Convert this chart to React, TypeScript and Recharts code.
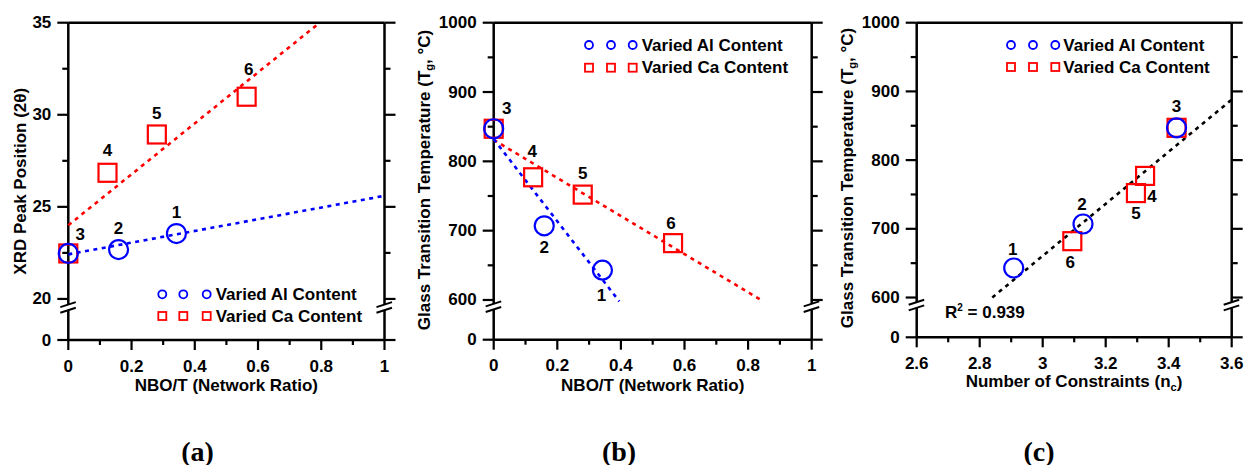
import React from "react";
import { ScatterChart, Scatter, XAxis, YAxis } from "recharts";

const W = 1247;
const H = 465;
const FONT = '"Liberation Sans", Arial, Helvetica, sans-serif';
const SERIF = '"Liberation Serif", "Times New Roman", serif';
const BLUE = "#0000ff";
const RED = "#ff0000";

// sample numbers: 1-3 vary Al, 3-6 vary Ca (3 is the shared base glass)
const AL_IDS = [1, 2, 3];
const CA_IDS = [3, 4, 5, 6];

// (a) XRD peak position vs NBO/T
const NBO_AL = [0.342, 0.159, 0];
const NBO_CA = [0, 0.124, 0.28, 0.564];
const XRD_AL = [23.55, 22.68, 22.47];
const XRD_CA = [22.47, 26.85, 28.93, 30.98];
const XRD_FIT_AL_X = [0, 1];
const XRD_FIT_AL_Y = [22.42, 25.6];
const XRD_FIT_CA_X = [0, 0.795];
const XRD_FIT_CA_Y = [24.0, 35];

// (b) Tg vs NBO/T
const TG_AL = [643, 707, 847];
const TG_CA = [847, 777, 752, 682];
const TG_FIT_AL_X = [0, 0.395];
const TG_FIT_AL_Y = [832, 598];
const TG_FIT_CA_X = [0, 0.848];
const TG_FIT_CA_Y = [831, 598];

// (c) Tg vs number of constraints
const NC_AL = [2.908, 3.128, 3.425];
const NC_CA = [3.425, 3.325, 3.296, 3.094];
const NC_FIT_X = [2.84, 3.6];
const NC_FIT_Y = [600, 888];
const R2 = "0.939";

// ticks
const NBO_TICKS = [0, 0.2, 0.4, 0.6, 0.8, 1];
const NBO_MINOR = [0.1, 0.3, 0.5, 0.7, 0.9];
const NC_TICKS = [2.6, 2.8, 3, 3.2, 3.4, 3.6];
const NC_MINOR = [2.7, 2.9, 3.1, 3.3, 3.5];
const XRD_TICKS = [20, 25, 30, 35];
const XRD_MINOR = [22.5, 27.5, 32.5];
const TG_TICKS = [600, 700, 800, 900, 1000];
const TG_MINOR = [650, 750, 850, 950];

// axis widths
const LW = 60;
const RW = 12;
const TH = 12;
const BH = 30;
const AXIS = { stroke: "#000", strokeWidth: 2.5 };

const zip = (xs: number[], ys: number[], ids?: number[]) =>
  xs.map((x, i) => ({ x, y: ys[i], id: ids ? ids[i] : i }));

const txt = { fontFamily: FONT, fontWeight: 700, fontSize: 17, fill: "#000" } as const;

function xTick(side: "bottom" | "top", major: number[]) {
  return (p: any) => {
    const v = p.payload.value;
    const isMajor = major.includes(v);
    const dir = side === "bottom" ? 1 : -1;
    const len = isMajor ? 10 : 5;
    return (
      <g>
        <line x1={p.x} x2={p.x} y1={p.y} y2={p.y + dir * len} stroke="#000" strokeWidth={2.2} />
        {side === "bottom" && isMajor && (
          <text x={p.x} y={p.y + 26} textAnchor="middle" dominantBaseline="central" {...txt}>
            {String(v)}
          </text>
        )}
      </g>
    );
  };
}

function yTick(side: "left" | "right", major: number[], floor: number, brk: number) {
  return (p: any) => {
    const v = p.payload.value;
    const { x, y } = p;
    if (v === brk) {
      return (
        <g>
          <polygon points={`${x - 8},${y - 0.3} ${x + 7.5},${y - 5.3} ${x + 7.5},${y + 0.3} ${x - 8},${y + 5.3}`} fill="#fff" />
          <line x1={x - 8} y1={y - 0.3} x2={x + 7.5} y2={y - 5.3} stroke="#000" strokeWidth={2} />
          <line x1={x - 8} y1={y + 5.3} x2={x + 7.5} y2={y + 0.3} stroke="#000" strokeWidth={2} />
        </g>
      );
    }
    const isMajor = v === floor || major.includes(v);
    const dir = side === "left" ? -1 : 1;
    const len = isMajor ? 11 : 6;
    return (
      <g>
        <line x1={x} x2={x + dir * len} y1={y} y2={y} stroke="#000" strokeWidth={2.2} />
        {side === "left" && isMajor && (
          <text x={x - 17} y={y} textAnchor="end" dominantBaseline="central" {...txt}>
            {v === floor ? "0" : String(v)}
          </text>
        )}
      </g>
    );
  };
}

type Offsets = Record<string, [number, number]>;

function markerShape(kind: "al" | "ca", offs: Offsets) {
  return (p: any) => {
    const off = offs[kind + p.payload.id];
    const color = kind === "al" ? BLUE : RED;
    return (
      <g>
        {kind === "al" ? (
          <circle cx={p.cx} cy={p.cy} r={9.5} fill="none" stroke={color} strokeWidth={2.2} />
        ) : (
          <rect x={p.cx - 9} y={p.cy - 9} width={18} height={18} fill="none" stroke={color} strokeWidth={2.2} />
        )}
        {off && (
          <text x={p.cx + off[0]} y={p.cy + off[1]} textAnchor="middle" dominantBaseline="central" {...txt}>
            {p.payload.id}
          </text>
        )}
      </g>
    );
  };
}

type Fit = { pts: { x: number; y: number }[]; color: string };

type PanelCfg = {
  box: { l: number; r: number; t: number; b: number };
  xDomain: [number, number];
  xTicks: number[];
  xMinor: number[];
  yTop: number;
  yFloor: number;
  yBreak: number;
  yTicks: number[];
  yMinor: number[];
  al: { x: number; y: number; id: number }[];
  ca: { x: number; y: number; id: number }[];
  fits: Fit[];
  labels: Offsets;
};

const noShape = () => <g />;

function Panel({ cfg }: { cfg: PanelCfg }) {
  const m = {
    left: cfg.box.l - LW,
    right: W - cfg.box.r - RW,
    top: cfg.box.t - TH,
    bottom: H - cfg.box.b - BH,
  };
  const xt = [...cfg.xTicks, ...cfg.xMinor].sort((a, b) => a - b);
  const yt = [cfg.yFloor, cfg.yBreak, ...cfg.yTicks, ...cfg.yMinor].sort((a, b) => a - b);
  const yDomain: [number, number] = [cfg.yFloor, cfg.yTop];
  return (
    <div style={{ position: "absolute", left: 0, top: 0 }}>
      <ScatterChart width={W} height={H} margin={m}>
        <XAxis type="number" dataKey="x" domain={cfg.xDomain} ticks={xt} interval={0}
          tickSize={0} tickMargin={0} tickLine={false} axisLine={AXIS} height={BH}
          tick={xTick("bottom", cfg.xTicks)} />
        <XAxis xAxisId="top" orientation="top" type="number" domain={cfg.xDomain} allowDataOverflow
          ticks={xt} interval={0} tickSize={0} tickMargin={0} tickLine={false} axisLine={AXIS}
          height={TH} tick={xTick("top", cfg.xTicks)} />
        <YAxis type="number" dataKey="y" domain={yDomain} ticks={yt} interval={0}
          tickSize={0} tickMargin={0} tickLine={false} axisLine={AXIS} width={LW}
          tick={yTick("left", cfg.yTicks, cfg.yFloor, cfg.yBreak)} />
        <YAxis yAxisId="right" orientation="right" type="number" domain={yDomain} allowDataOverflow
          ticks={yt} interval={0} tickSize={0} tickMargin={0} tickLine={false} axisLine={AXIS}
          width={RW} tick={yTick("right", cfg.yTicks, cfg.yFloor, cfg.yBreak)} />
        {cfg.fits.map((f, i) => (
          <Scatter key={"fit" + i} data={f.pts} shape={noShape} isAnimationActive={false}
            line={{ stroke: f.color, strokeWidth: 2.6, strokeDasharray: "4 4.5" }} />
        ))}
        <Scatter data={cfg.ca} shape={markerShape("ca", cfg.labels)} isAnimationActive={false} />
        <Scatter data={cfg.al} shape={markerShape("al", cfg.labels)} isAnimationActive={false} />
      </ScatterChart>
    </div>
  );
}

const PANELS: PanelCfg[] = [
  {
    box: { l: 68.3, r: 384.5, t: 22.7, b: 340 },
    xDomain: [0, 1],
    xTicks: NBO_TICKS,
    xMinor: NBO_MINOR,
    yTop: 35,
    yFloor: 17.77,
    yBreak: 19.54,
    yTicks: XRD_TICKS,
    yMinor: XRD_MINOR,
    al: zip(NBO_AL, XRD_AL, AL_IDS),
    ca: zip(NBO_CA, XRD_CA, CA_IDS),
    fits: [
      { pts: zip(XRD_FIT_CA_X, XRD_FIT_CA_Y), color: RED },
      { pts: zip(XRD_FIT_AL_X, XRD_FIT_AL_Y), color: BLUE },
    ],
    labels: { al1: [0, -21], al2: [0, -21], al3: [12, -19], ca4: [0, -22], ca5: [0, -21], ca6: [2, -27] },
  },
  {
    box: { l: 493.7, r: 811.7, t: 22.7, b: 339.7 },
    xDomain: [0, 1],
    xTicks: NBO_TICKS,
    xMinor: NBO_MINOR,
    yTop: 1000,
    yFloor: 542.7,
    yBreak: 590.3,
    yTicks: TG_TICKS,
    yMinor: TG_MINOR,
    al: zip(NBO_AL, TG_AL, AL_IDS),
    ca: zip(NBO_CA, TG_CA, CA_IDS),
    fits: [
      { pts: zip(TG_FIT_CA_X, TG_FIT_CA_Y), color: RED },
      { pts: zip(TG_FIT_AL_X, TG_FIT_AL_Y), color: BLUE },
    ],
    labels: { al1: [-1, 25], al2: [0, 22], al3: [13, -20], ca4: [-1, -26], ca5: [0, -21], ca6: [-2, -20] },
  },
  {
    box: { l: 916.7, r: 1231.7, t: 22.7, b: 337.3 },
    xDomain: [2.6, 3.6],
    xTicks: NC_TICKS,
    xMinor: NC_MINOR,
    yTop: 1000,
    yFloor: 542.1,
    yBreak: 589,
    yTicks: TG_TICKS,
    yMinor: TG_MINOR,
    al: zip(NC_AL, TG_AL, AL_IDS),
    ca: zip(NC_CA, TG_CA, CA_IDS),
    fits: [{ pts: zip(NC_FIT_X, NC_FIT_Y), color: "#000" }],
    labels: { al1: [-1, -18], al2: [-1, -20], al3: [0, -21], ca4: [7, 21], ca5: [0, 20], ca6: [-2, 21] },
  },
];

function LegendBlock({ xs, textX, y1, y2 }: { xs: number[]; textX: number; y1: number; y2: number }) {
  return (
    <g>
      {xs.map((x) => (
        <circle key={"c" + x} cx={x} cy={y1} r={4} fill="none" stroke={BLUE} strokeWidth={1.8} />
      ))}
      <text x={textX} y={y1} dominantBaseline="central" {...txt}>Varied Al Content</text>
      {xs.map((x) => (
        <rect key={"s" + x} x={x - 4} y={y2 - 4} width={8} height={8} fill="none" stroke={RED} strokeWidth={1.8} />
      ))}
      <text x={textX} y={y2} dominantBaseline="central" {...txt}>Varied Ca Content</text>
    </g>
  );
}

function TgTitle({ x, y }: { x: number; y: number }) {
  return (
    <text transform={`translate(${x},${y}) rotate(-90)`} textAnchor="middle" dominantBaseline="central" {...txt}>
      Glass Transition Temperature (T<tspan fontSize={11} dy={5}>g</tspan>
      <tspan dy={-5}>, °C)</tspan>
    </text>
  );
}

function Overlay() {
  return (
    <svg width={W} height={H} style={{ position: "absolute", left: 0, top: 0 }}>
      <text transform="translate(20.3,181.3) rotate(-90)" textAnchor="middle" dominantBaseline="central" {...txt}>
        XRD Peak Position (2θ)
      </text>
      <TgTitle x={424} y={180} />
      <TgTitle x={847} y={178} />
      <text x={226.4} y={385} textAnchor="middle" dominantBaseline="central" {...txt}>NBO/T (Network Ratio)</text>
      <text x={652.7} y={385} textAnchor="middle" dominantBaseline="central" {...txt}>NBO/T (Network Ratio)</text>
      <text x={1074} y={381.7} textAnchor="middle" dominantBaseline="central" {...txt}>
        Number of Constraints (n<tspan fontSize={11} dy={5}>c</tspan>
        <tspan dy={-5}>)</tspan>
      </text>
      <LegendBlock xs={[162.3, 183.3, 206.7]} textX={215.7} y1={294.3} y2={316} />
      <LegendBlock xs={[589, 611, 632.7]} textX={641.7} y1={45} y2={67.7} />
      <LegendBlock xs={[1011, 1033, 1055.3]} textX={1063.3} y1={45} y2={67} />
      <text x={945} y={312.3} dominantBaseline="central" {...txt}>
        R<tspan fontSize={10} dy={-5}>2</tspan>
        <tspan dy={5}> = {R2}</tspan>
      </text>
      {[["(a)", 197.5], ["(b)", 619], ["(c)", 1039]].map(([s, x]) => (
        <text key={s as string} x={x as number} y={451} textAnchor="middle" dominantBaseline="central"
          fontFamily={SERIF} fontWeight={700} fontSize={28} fill="#000">
          {s}
        </text>
      ))}
    </svg>
  );
}

export default function App() {
  return (
    <div style={{ position: "absolute", left: 0, top: 0, width: W, height: H, background: "#fff" }}>
      {PANELS.map((cfg, i) => (
        <Panel key={i} cfg={cfg} />
      ))}
      <Overlay />
    </div>
  );
}
